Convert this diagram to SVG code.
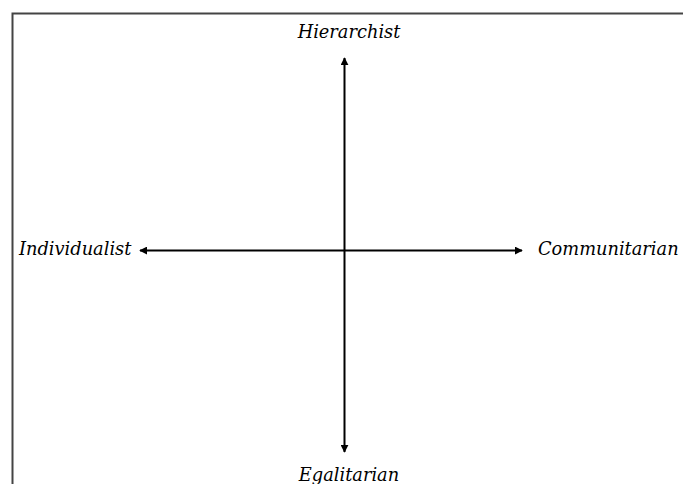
<svg xmlns="http://www.w3.org/2000/svg" width="683" height="484" viewBox="0 0 683 484">
<defs>
<style>
.lbl{font-family:"DejaVu Serif","Liberation Serif",serif;font-style:italic;font-size:17.8px;fill:#000}
.ax{stroke:#000;stroke-width:2;fill:none}
.frame{stroke:#444;stroke-width:2;fill:none}
</style>
<marker id="ah" viewBox="0 0 10 10" refX="9" refY="5" markerWidth="4" markerHeight="4" orient="auto-start-reverse">
<path d="M0,0 L10,5 L0,10 z" fill="#000"/>
</marker>
</defs>
<path class="frame" d="M12.5,484 V13.5 H683"/>
<g id="connectors">
<line class="ax" x1="344.5" y1="58" x2="344.5" y2="452" marker-start="url(#ah)" marker-end="url(#ah)"/>
<line class="ax" x1="140" y1="250.5" x2="522" y2="250.5" marker-start="url(#ah)" marker-end="url(#ah)"/>
</g>
<g id="hierarchist"><text class="lbl" x="349" y="38" text-anchor="middle">Hierarchist</text></g>
<g id="egalitarian"><text class="lbl" x="349" y="481" text-anchor="middle">Egalitarian</text></g>
<g id="individualist"><text class="lbl" x="19" y="255">Individualist</text></g>
<g id="communitarian"><text class="lbl" x="538" y="255">Communitarian</text></g>
</svg>
